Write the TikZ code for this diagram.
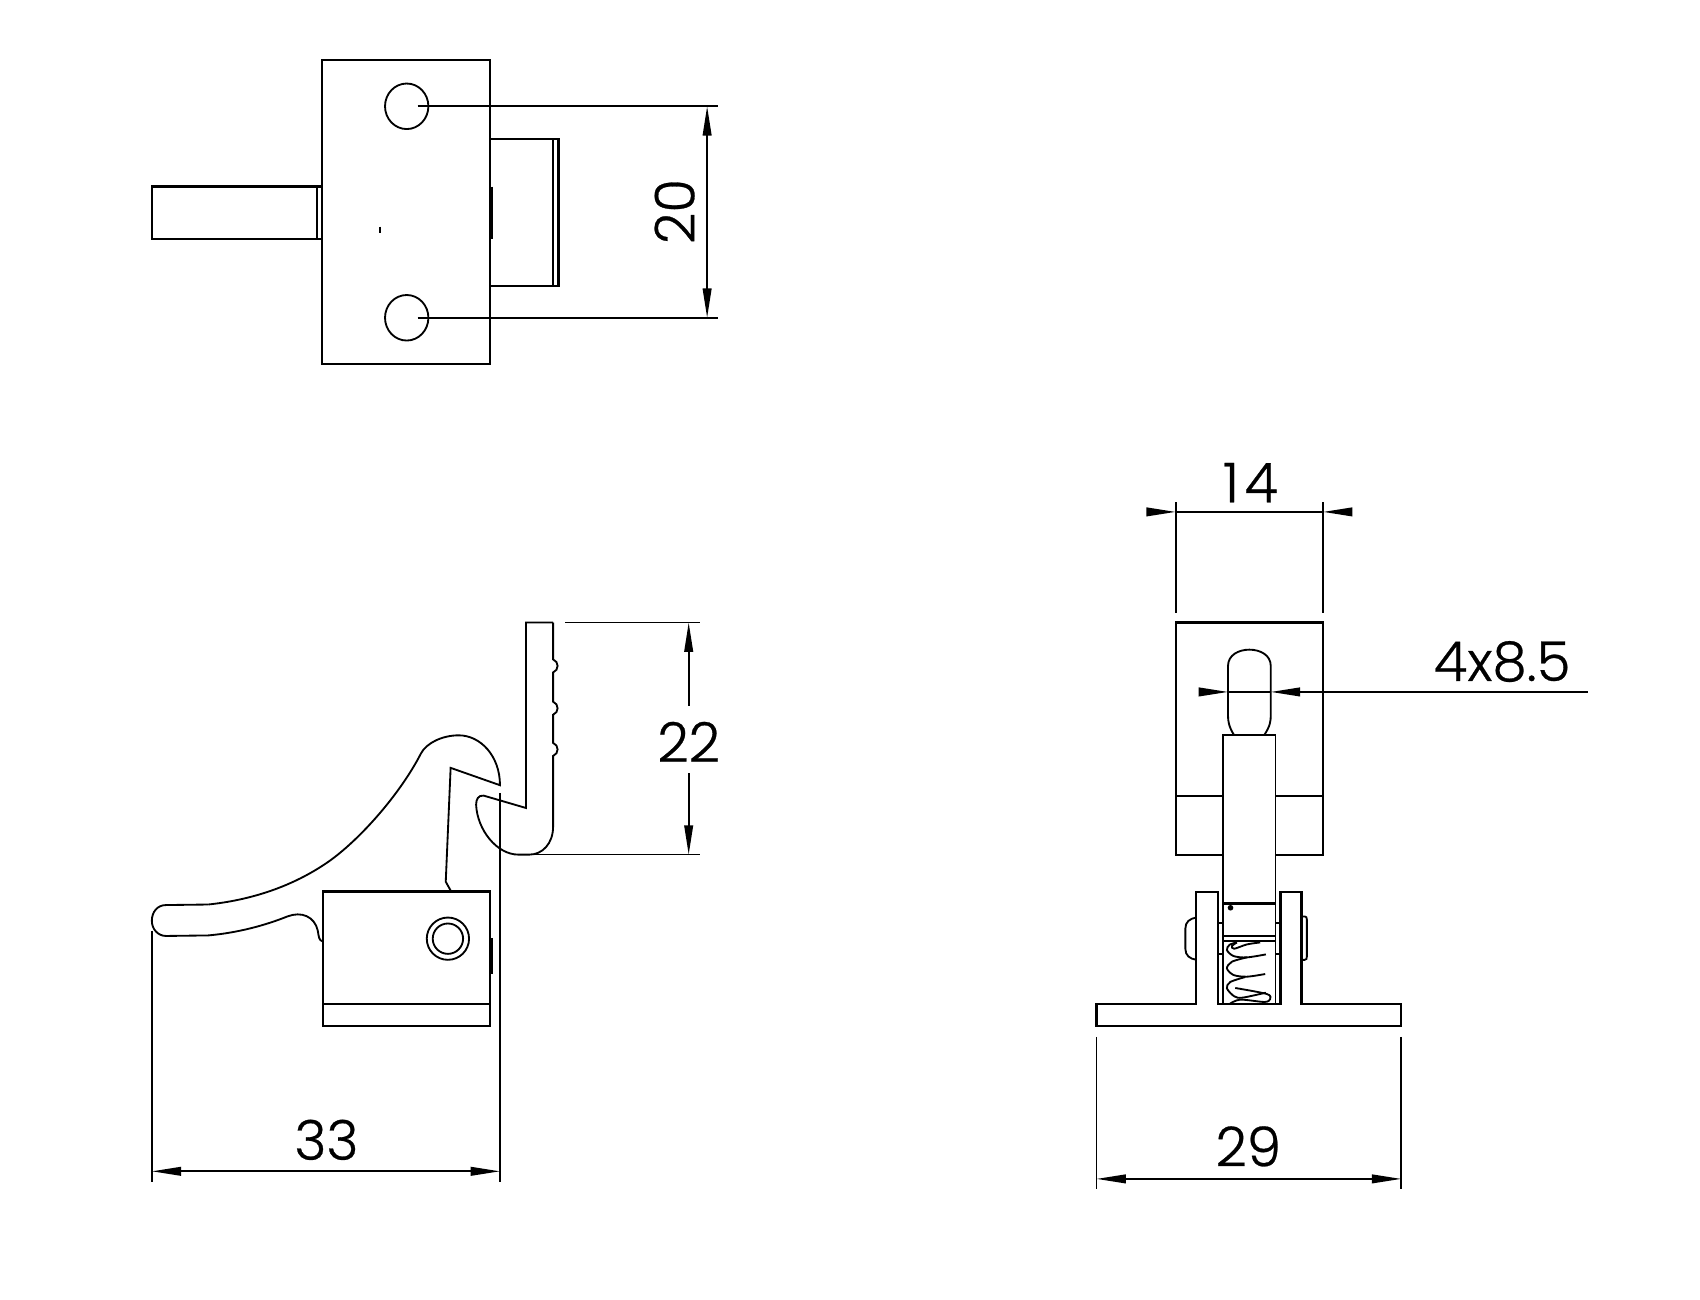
\documentclass[tikz,border=0pt]{standalone}
\usepackage{fontspec}
\setmainfont{Poppins}[UprightFont=* Light,UprightFeatures={FakeBold=0.5}]
\usetikzlibrary{arrows.meta}
\tikzset{
  part/.style={line width=2pt,line join=miter,black},
  thin part/.style={line width=1.7pt,black},
  ext/.style={line width=1.6pt,black},
  dim/.style={line width=1.6pt,black},
  tipshape/.tip={Triangle[length=27pt,width=8pt]},
  both tips/.style={tipshape-tipshape},
  label text/.style={inner sep=0pt,font=\fontsize{50.5}{50.5}\selectfont}
}
\begin{document}
\begin{tikzpicture}[x=1pt,y=-1pt]
\useasboundingbox (0,0) rectangle (1567.5,1197.8);
% ---- top view
\draw[part] (297,55) rectangle (452,336);
\draw[part] (297,172) -- (140,172) -- (140,220) -- (297,220);
\draw[thin part] (292,172) -- (292,220);
\draw[part] (452,128) -- (515,128) -- (515,264) -- (452,264);
\draw[thin part] (510,128) -- (510,264);
\draw[line width=2.6pt] (453.5,172) -- (453.5,220);
\draw[line width=1.8pt] (350,209) -- (350,215);
\draw[thin part] (375,98) ellipse (20 and 21);
\draw[thin part] (375,293) ellipse (20 and 21);
\coordinate (holeA) at (385,98);
\coordinate (holeB) at (385,293);
\coordinate (extA) at (662,98);
\coordinate (extB) at (662,293);
\coordinate (dimA) at (652,98);
\coordinate (dimB) at (652,293);
\draw[ext] (holeA) -- (extA);
\draw[ext] (holeB) -- (extB);
\draw[dim,both tips] (dimA) -- (dimB);
\node[label text,rotate=90] (t20) at (622,195) {20};
% ---- side view: lever
\draw[thin part] (192,834) .. controls (230,830) and (270,818) .. (305,793)
  .. controls (335,771) and (370,730) .. (388,695)
  .. controls (393,685) and (408,678) .. (423,678)
  .. controls (443,678) and (461,697) .. (461,724)
  -- (415.5,708) -- (411,813) -- (416,822);
\draw[thin part] (192,834) -- (153,834.5) .. controls (145,834.5) and (140,841) .. (140,849)
  .. controls (140,857) and (146,863) .. (153,863) -- (192,862.5)
  .. controls (220,860) and (245,853) .. (265,845)
  .. controls (278,840) and (290,845) .. (293,858)
  .. controls (294,864) and (294,867) .. (297.5,868);
% ---- side view: hook
\draw[thin part] (510,574) -- (485,574) -- (485,745) -- (446,733.6)
  .. controls (441,733) and (439,737) .. (439,742)
  .. controls (440,765) and (458,788) .. (478,788) -- (488,788)
  .. controls (500,788) and (510,778) .. (510,762) -- (510,697)
  .. controls (515.5,695) and (515.5,687) .. (510,685) -- (510,659)
  .. controls (515.5,657) and (515.5,649) .. (510,647) -- (510,620)
  .. controls (515.5,618) and (515.5,610) .. (510,608) -- (510,574);
% ---- side view: body
\draw[part] (298,822) rectangle (452,946);
\draw[thin part] (298,926) -- (452,926);
\draw[thin part] (413,865.5) circle (19.5);
\draw[thin part] (413,865.5) circle (14);
\draw[line width=2.6pt] (453.5,865) -- (453.5,898);
\coordinate (hookTop) at (521,574);
\coordinate (hookBot) at (490,788);
\coordinate (extC) at (645,574);
\coordinate (extD) at (645,788);
\coordinate (dimC) at (635,574);
\coordinate (dimD) at (635,788);
\coordinate (gapC) at (635,651);
\coordinate (gapD) at (635,713);
\draw[ext] (hookTop) -- (extC);
\draw[ext] (hookBot) -- (extD);
\draw[dim,tipshape-] (dimC) -- (gapC);
\draw[dim,-tipshape] (gapD) -- (dimD);
\node[label text] (t22) at (635,684) {22};
\coordinate (leverEnd) at (140,858);
\coordinate (extE) at (140,1090);
\coordinate (hookLeft) at (461,731);
\coordinate (extF) at (461,1090);
\coordinate (dimE) at (140,1080);
\coordinate (dimF) at (461,1080);
\draw[ext] (leverEnd) -- (extE);
\draw[ext] (hookLeft) -- (extF);
\draw[dim,both tips] (dimE) -- (dimF);
\node[label text] (t33) at (301,1051) {33};
% ---- front view: plate
\draw[part] (1084,574) rectangle (1220,788);
\draw[thin part] (1084,734) -- (1128,734);
\draw[thin part] (1176,734) -- (1220,734);
\draw[thin part] (1138,678) .. controls (1133,670) and (1132.3,665) .. (1132.3,660) -- (1132.3,614)
  .. controls (1132.3,604) and (1142,599) .. (1152,599)
  .. controls (1162,599) and (1171.7,604) .. (1171.7,614) -- (1171.7,660)
  .. controls (1171.7,665) and (1171,670) .. (1165.5,678);
% post
\draw[fill=white,draw=none] (1128,678) rectangle (1176,926);
\draw[thin part] (1128,926) -- (1128,678) -- (1176,678) -- (1176,926);
\draw[part] (1128,833) -- (1176,833);
\draw[thin part] (1128,863) -- (1176,863);
\draw[thin part] (1128,867.5) -- (1176,867.5);
\fill (1134.6,837) circle (2.6);
\draw[thin part] (1123,851) -- (1128,851);
\draw[thin part] (1123,880) -- (1128,880);
\draw[thin part] (1176,851) -- (1180.7,851);
\draw[thin part] (1176,880) -- (1180.7,880);
% lugs and base
\draw[part] (1011,926) -- (1103,926) -- (1103,822.5) -- (1123,822.5) -- (1123,926) -- (1180.7,926) -- (1180.7,822.5) -- (1200,822.5) -- (1200,926) -- (1292,926) -- (1292,946) -- (1011,946) -- cycle;
\draw[thin part] (1103,846) .. controls (1097,847) and (1093,850) .. (1093,856) -- (1093,875) .. controls (1093,881) and (1097,884) .. (1103,885);
\draw[thin part] (1200,845) -- (1203,845) .. controls (1204.5,845) and (1205,846) .. (1205,848) -- (1205,882) .. controls (1205,884) and (1204.5,885) .. (1203,885) -- (1200,885);
% spring, in coordinates of the enlarged view
\begin{scope}[shift={(1005.5,784)},x=.3068pt,y=-.3067pt,thin part]
\draw plot[smooth] coordinates {(510,277) (470,283) (432,296) (425,288) (440,277)};
\draw plot[smooth] coordinates {(440,277) (418,284) (410,300) (430,318) (470,322) (527,313)};
\draw plot[smooth] coordinates {(470,322) (425,335) (410,355) (430,375) (470,380) (525,372)};
\draw plot[smooth] coordinates {(465,381) (420,396) (410,415) (432,439) (457,443) (527,428)};
\draw plot[smooth] coordinates {(435,414) (530,432) (540,447) (523,456) (450,449) (418,462)};
\end{scope}
\coordinate (baseL) at (1011,956);
\coordinate (baseR) at (1292,956);
\coordinate (extG) at (1011,1096);
\coordinate (extH) at (1292,1096);
\coordinate (dimG) at (1011,1087);
\coordinate (dimH) at (1292,1087);
\draw[ext] (baseL) -- (extG);
\draw[ext] (baseR) -- (extH);
\draw[dim,both tips] (dimG) -- (dimH);
\node[label text] (t29) at (1151,1057) {29};
% width 14
\coordinate (plateL) at (1084,565);
\coordinate (plateR) at (1220,565);
\coordinate (extI) at (1084,463);
\coordinate (extJ) at (1220,463);
\coordinate (dimI) at (1084,472);
\coordinate (dimJ) at (1220,472);
\coordinate (tailI) at (1058.5,472);
\coordinate (tailJ) at (1245,472);
\draw[ext] (plateL) -- (extI);
\draw[ext] (plateR) -- (extJ);
\draw[dim] (dimI) -- (dimJ);
\draw[dim,-tipshape] (tailI) -- (dimI);
\draw[dim,-tipshape] (tailJ) -- (dimJ);
\node[label text] (t14) at (1153,445) {1\kern5pt 4};
% slot width
\coordinate (slotL) at (1132.3,638);
\coordinate (slotR) at (1171.7,638);
\coordinate (tailK) at (1107,638);
\coordinate (leaderEnd) at (1464,638);
\draw[dim] (slotL) -- (slotR);
\draw[dim,-tipshape] (tailK) -- (slotL);
\draw[dim,-tipshape] (leaderEnd) -- (slotR);
\node[label text] (t48) at (1385,610) {4x8.5};
\end{tikzpicture}
\end{document}
